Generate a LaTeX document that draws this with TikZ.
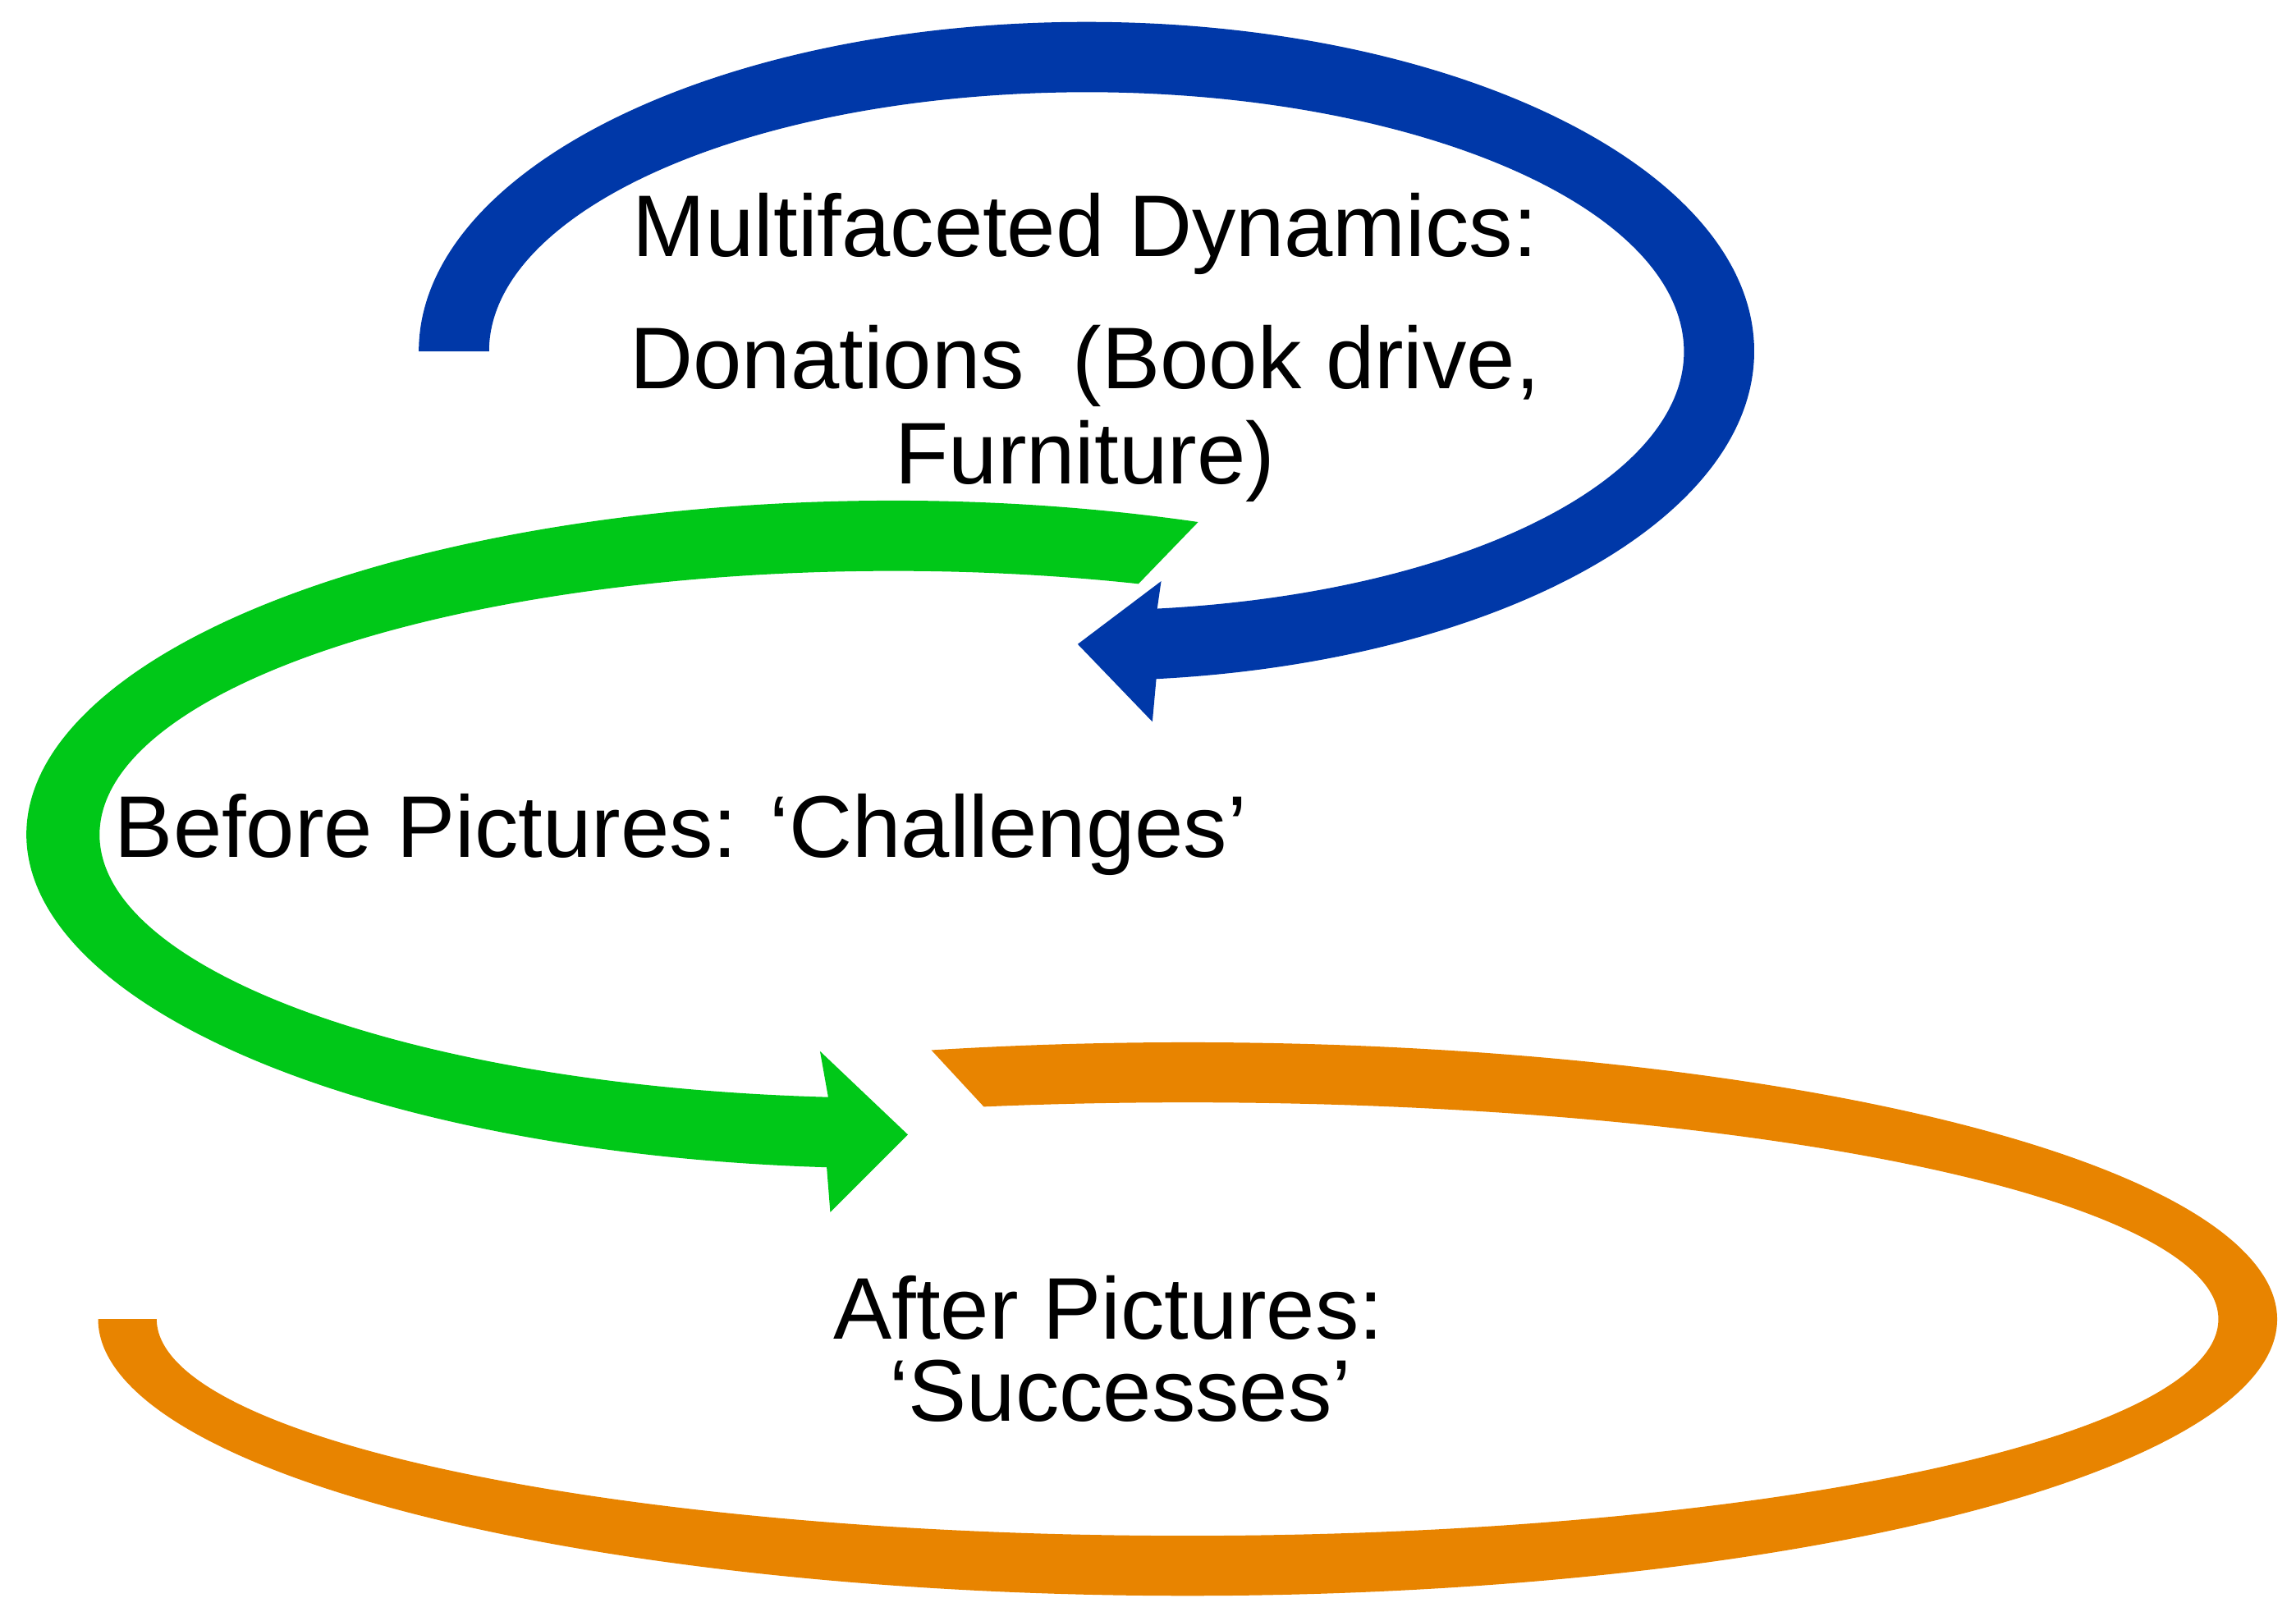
\documentclass[tikz,border=0pt]{standalone}
\usepackage{fontspec}
\setmainfont{Liberation Sans}
\usetikzlibrary{calc}
\definecolor{bl}{RGB}{0,56,168}
\definecolor{gr}{RGB}{0,200,24}
\definecolor{or}{RGB}{232,132,0}
\begin{document}
\begin{tikzpicture}[x=0.01cm,y=0.01cm,
  lbl/.style={font=\fontsize{17}{20}\selectfont,inner sep=0pt}]
\useasboundingbox (0,0) rectangle (1568,1107);
% blue
\fill[bl] (742,867) ++(180:456 and 225) arc[start angle=180,end angle=-84,x radius=456,y radius=225]
  -- (787,614) -- (736,667) -- (793,710)
  -- ($(742,867)+(-83.2:408 and 177)$) arc[start angle=-83.2,end angle=180,x radius=408,y radius=177] -- cycle;
% green
\fill[gr] (610,537) ++(69.4:592 and 228) arc[start angle=69.4,end angle=265.6,x radius=592,y radius=228]
  -- (567,279) -- (620,332) -- (560,389)
  -- ($(610,537)+(265.3:542 and 180)$) arc[start angle=265.3,end angle=72,x radius=542,y radius=180] -- cycle;
% orange
\fill[or] (811,206) ++(103.6:744 and 189) arc[start angle=103.6,end angle=-180,x radius=744,y radius=189]
  -- (107,206) arc[start angle=-180,end angle=101.4,x radius=704,y radius=148] -- cycle;
\node[lbl] (t1) at (741,947) {Multifaceted Dynamics:};
\node[lbl] (t2) at (741,857) {Donations\ \ (Book drive,};
\node[lbl] (t3) at (741,792) {Furniture)};
\node[lbl] (t4) at (465,537) {Before Pictures: ‘Challenges’};
\node[lbl] (t5) at (757,214) {After Pictures:};
\node[lbl] (t6) at (765,157) {‘Successes’};
\end{tikzpicture}
\end{document}
